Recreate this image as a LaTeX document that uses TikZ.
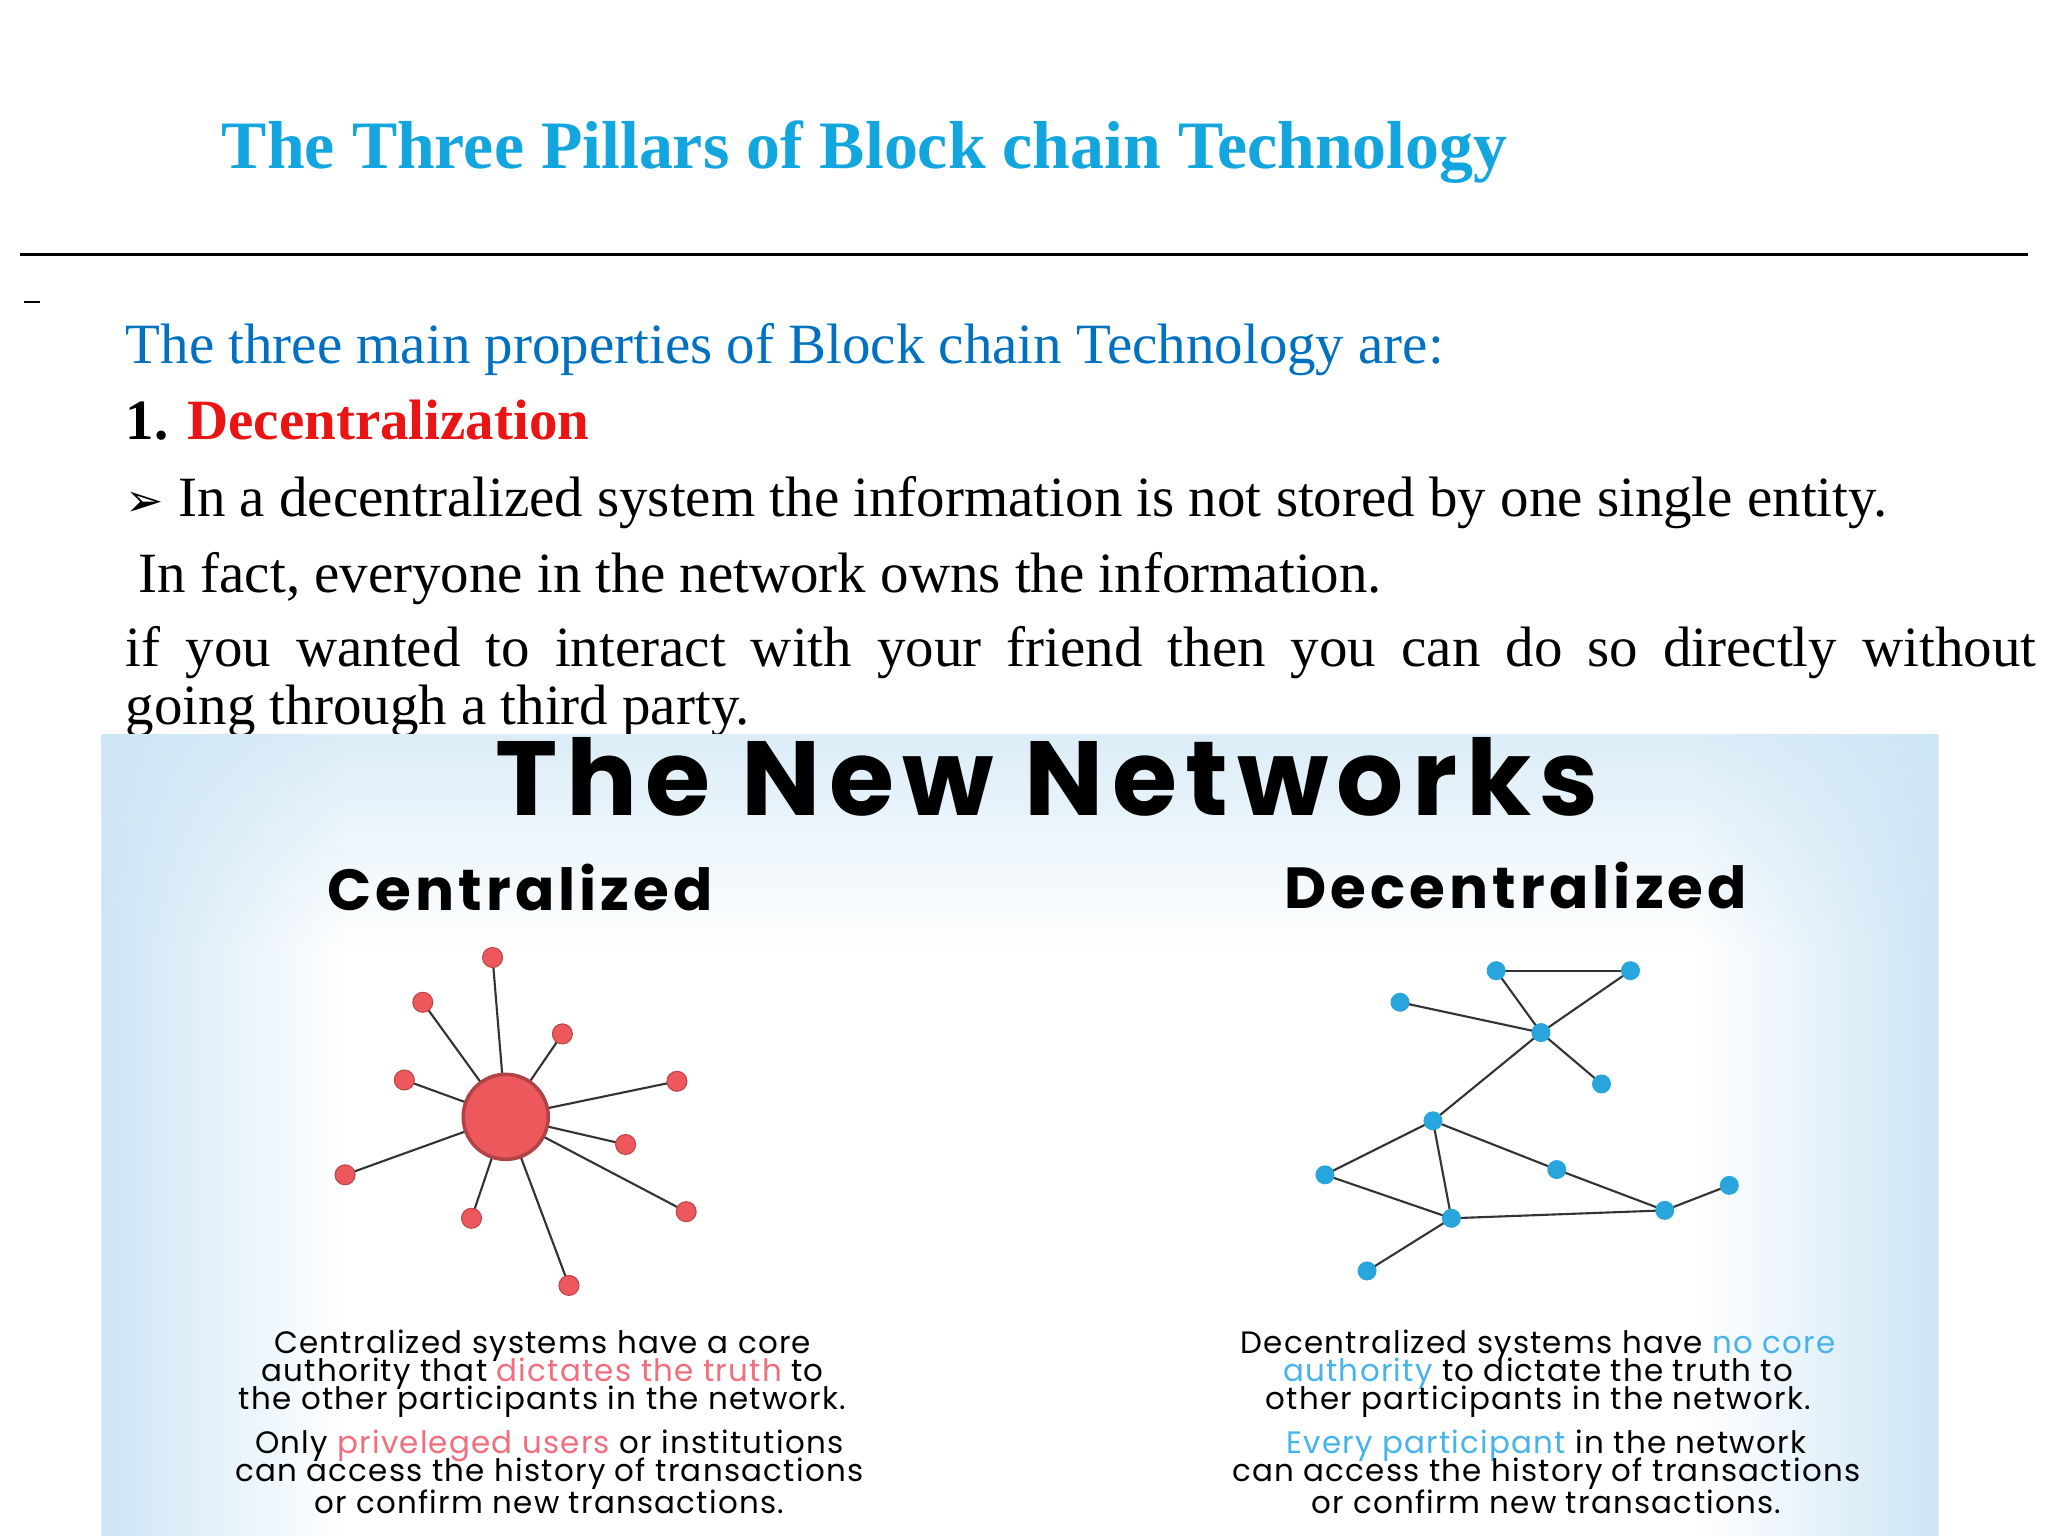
\documentclass[tikz,border=0pt]{standalone}
\usepackage{fontspec}
\usetikzlibrary{fadings}
\setmainfont{Liberation Serif}
\newfontfamily\pop{Poppins}
\newfontfamily\popw[LetterSpace=4]{Poppins}
\newfontfamily\dvs{DejaVu Sans}
\definecolor{titleblue}{RGB}{18,165,222}
\definecolor{lineblue}{RGB}{0,112,192}
\definecolor{redd}{RGB}{235,20,20}
\definecolor{pinkn}{RGB}{236,88,92}
\definecolor{pinkt}{RGB}{240,110,125}
\definecolor{bluen}{RGB}{41,165,222}
\definecolor{bluet}{RGB}{70,180,235}
\definecolor{bgblue}{RGB}{205,230,245}
\begin{document}
\begin{tikzpicture}[x=0.01317cm,y=-0.01317cm,
  body/.style={anchor=base west,inner sep=0,font=\fontsize{16.2}{19}\selectfont},
  rn/.style={circle,fill=pinkn,draw=pinkn!80!black,line width=0.3pt,minimum size=0.2cm,inner sep=0},
  bn/.style={circle,fill=bluen,minimum size=0.19cm,inner sep=0},
  captxt/.style={font=\popw\fontsize{8.8}{10}\selectfont,inner sep=0},
  lnk/.style={line width=0.6pt,draw=gray!40!black}]
\useasboundingbox (0,0) rectangle (1555,1166);
\fill[white] (0,0) rectangle (1555,1166);
\node[anchor=base west,inner sep=0,text=titleblue,font=\fontsize{19.3}{22}\selectfont\bfseries] (title) at (168,128) {The Three Pillars of Block chain Technology};
\draw[line width=0.8pt] (15,193) -- (1540,193);
\draw[line width=0.6pt] (18,229) -- (30,229);
\node[body,text=lineblue] (l1) at (95,276) {The three main properties of Block chain Technology are:};
\node[body] (l2) at (95,334) {\textbf{1. \textcolor{redd}{Decentralization}}};
\node[body] (l3) at (95,392) {{\dvs\fontsize{13}{14}\selectfont ➢} In a decentralized system the information is not stored by one single entity.};
\node[body] (l4) at (105,450) {In fact, everyone in the network owns the information.};
\node[anchor=north west,inner sep=0,text width=19.1cm,align=justify,font=\fontsize{16.2}{16.4}\selectfont] (par) at (95,475) {if you wanted to interact with your friend then you can do so directly without\linebreak going through a third party.};
% image
\begin{scope}
\clip (77,557) rectangle (1472,1166);
\fill[white] (77,557) rectangle (1472,1166);
\fill[bgblue,path fading=south,fill opacity=0.7] (77,557) rectangle (1472,720);
\fill[bgblue,path fading=east] (77,557) rectangle (260,1166);
\fill[bgblue,path fading=west] (1290,557) rectangle (1472,1166);
\end{scope}
\node[font=\pop\addfontfeature{LetterSpace=8}\fontsize{30}{34}\selectfont\bfseries,inner sep=0] (nt) at (795,590) {The New Networks};
\node[font=\pop\addfontfeature{LetterSpace=7}\fontsize{16.5}{20}\selectfont\bfseries,inner sep=0] (ct) at (395,674) {Centralized};
\node[font=\pop\addfontfeature{LetterSpace=7}\fontsize{16.5}{20}\selectfont\bfseries,inner sep=0] (dt) at (1151,672) {Decentralized};
% centralized
\coordinate (hub) at (384,848);
\foreach \n/\px/\py in {a/374/727,b/321/761,d/427/785,e/307/820,f/514/821,g/475/869,h/262/892,i/521/920,j/358/925,k/432/976}{
  \coordinate (q\n) at (\px,\py);
  \draw[lnk] (hub) -- (q\n);
  \node[rn] (r\n) at (q\n) {};
}
\node[circle,fill=pinkn,draw=pinkn!75!black,line width=1pt,minimum size=0.85cm,inner sep=0] (hubn) at (hub) {};
% decentralized
\foreach \n/\px/\py in {A/1136/737,B/1238/737,C/1063/761,D/1170/784,E/1216/823,F/1088/851,G/1006/892,H/1182/888,I/1102/925,J/1264/919,K/1313/900,L/1038/965}{
  \coordinate (p\n) at (\px,\py);
}
\foreach \a/\b in {A/B,A/D,B/D,C/D,D/E,D/F,F/G,G/I,F/I,F/H,H/J,I/J,J/K,I/L}{
  \draw[lnk] (p\a) -- (p\b);
}
\foreach \n in {A,B,C,D,E,F,G,H,I,J,K,L}{ \node[bn] (n\n) at (p\n) {}; }
% captions
\node[captxt] (cp1) at (412,1022) {Centralized systems have a core};
\node[captxt] (cp2) at (412,1043) {authority that \textcolor{pinkt}{dictates the truth} to};
\node[captxt] (cp3) at (412,1064) {the other participants in the network.};
\node[captxt] (cp4) at (417,1098) {Only \textcolor{pinkt}{priveleged users} or institutions};
\node[captxt] (cp5) at (417,1119) {can access the history of transactions};
\node[captxt] (cp6) at (417,1140) {or confirm new transactions.};
\node[captxt] (dp1) at (1168,1022) {Decentralized systems have \textcolor{bluet}{no core}};
\node[captxt] (dp2) at (1168,1043) {\textcolor{bluet}{authority} to dictate the truth to};
\node[captxt] (dp3) at (1168,1064) {other participants in the network.};
\node[captxt] (dp4) at (1174,1098) {\textcolor{bluet}{Every participant} in the network};
\node[captxt] (dp5) at (1174,1119) {can access the history of transactions};
\node[captxt] (dp6) at (1174,1140) {or confirm new transactions.};
\end{tikzpicture}
\end{document}
